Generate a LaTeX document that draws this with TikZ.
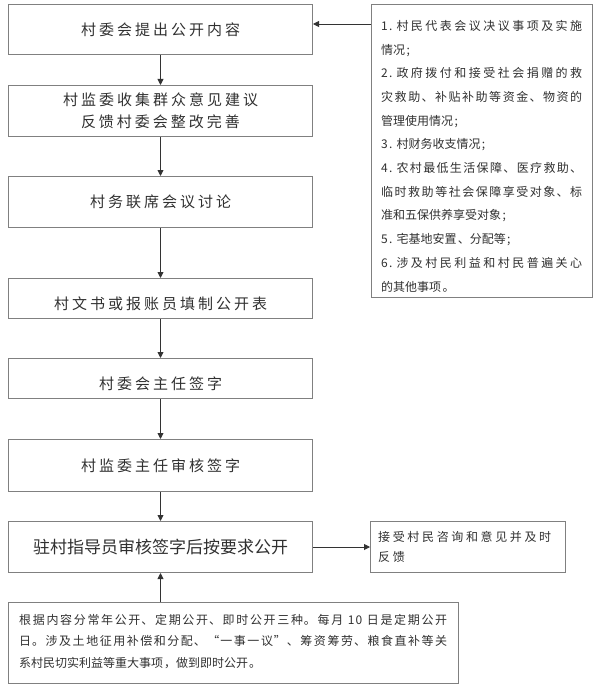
\documentclass[tikz,border=0pt]{standalone}
\usepackage{fontspec}
\setmainfont{Noto Sans CJK SC}
\newfontfamily\bigf[LetterSpace=20]{Noto Sans CJK SC}
\newfontfamily\midf[LetterSpace=22]{Noto Sans CJK SC}
\newfontfamily\smallf[LetterSpace=11]{Noto Sans CJK SC}
\newfontfamily\notef[LetterSpace=8]{Noto Sans CJK SC}
\XeTeXlinebreaklocale "zh"
\XeTeXlinebreakskip=0pt plus 3pt
\newcommand{\itemnum}[1]{#1\hspace{4pt}}
\newcommand{\dropfive}[1]{\raisebox{-5pt}[\height][\depth]{#1}}
\usetikzlibrary{arrows.meta}
\definecolor{lin}{HTML}{808080}
\definecolor{arr}{HTML}{333333}
\definecolor{txt}{HTML}{303030}
\tikzset{
  box/.style={draw=lin, line width=1pt, minimum width=304pt, minimum height=50pt, anchor=north west, inner sep=0pt, text=txt, align=center, font=\bigf\fontsize{15}{22}\selectfont},
  plain/.style={draw=lin, line width=1pt, anchor=north west, inner sep=0pt},
  small/.style={anchor=north west, inner sep=0pt, text=txt, align=left},
  just/.style={anchor=north west, inner sep=0pt, text=txt, align=justify},
  arrw/.style={draw=arr, line width=0.9pt, -{Triangle[length=6pt,width=6pt]}}
}
\begin{document}
\begin{tikzpicture}[x=1pt,y=-1pt]
\useasboundingbox (0,0) rectangle (600,690);
\node[box] (b1) at (8,4) {村委会提出公开内容};
\node[box, minimum height=51pt] (b2) at (8,85) {村监委收集群众意见建议\\反馈村委会整改完善};
\node[box, minimum height=51pt] (b3) at (8,176) {村务联席会议讨论};
\node[box, minimum height=40pt] (b4) at (8,278) {\dropfive{村文书或报账员填制公开表}};
\node[box, minimum height=40pt] (b5) at (8,358) {\dropfive{村委会主任签字}};
\node[box, minimum height=52pt] (b6) at (8,439) {村监委主任审核签字};
\node[box, minimum height=51pt, font=\setmainfont{Noto Sans CJK SC}\fontsize{17}{20}\selectfont] (b7) at (8,521) {驻村指导员审核签字后按要求公开};
\node[plain, minimum width=195pt, minimum height=51pt] (b8) at (370,521) {};
\node[small, font=\midf\fontsize{12}{20}\selectfont] (b8t) at (378,531) {接受村民咨询和意见并及时\\反馈};
\node[plain, minimum width=450pt, minimum height=81pt] (note) at (8,602) {};
\node[just, text width=428pt, font=\notef\fontsize{12}{21.5}\selectfont] (notet) at (19,614) {根据内容分常年公开、定期公开、即时公开三种。每月 10 日是定期公开\linebreak 日。涉及土地征用补偿和分配、“一事一议”、筹资筹劳、粮食直补等关\linebreak 系村民切实利益等重大事项，做到即时公开。};
\node[plain, minimum width=221pt, minimum height=293pt] (lst) at (371,4) {};
\node[just, text width=201pt, font=\smallf\fontsize{12}{23.7}\selectfont] (lstt) at (381,20) {\itemnum{1.}村民代表会议决议事项及实施\linebreak 情况;\\\itemnum{2.}政府拨付和接受社会捐赠的救\linebreak 灾救助、补贴补助等资金、物资的\linebreak 管理使用情况;\\\itemnum{3.}村财务收支情况;\\\itemnum{4.}农村最低生活保障、医疗救助、\linebreak 临时救助等社会保障享受对象、标\linebreak 准和五保供养享受对象;\\\itemnum{5.}宅基地安置、分配等;\\\itemnum{6.}涉及村民利益和村民普遍关心\linebreak 的其他事项。};
\draw[arrw] (b1) -- (b2);
\draw[arrw] (b2) -- (b3);
\draw[arrw] (b3) -- (b4);
\draw[arrw] (b4) -- (b5);
\draw[arrw] (b5) -- (b6);
\draw[arrw] (b6) -- (b7);
\draw[arrw] (b7) -- (b8);
\draw[arrw] (note.north -| b7.south) -- (b7.south);
\coordinate (ls) at ([yshift=-20pt]lst.north west);
\draw[arrw] (ls) -- (ls -| b1.east);
\end{tikzpicture}
\end{document}
